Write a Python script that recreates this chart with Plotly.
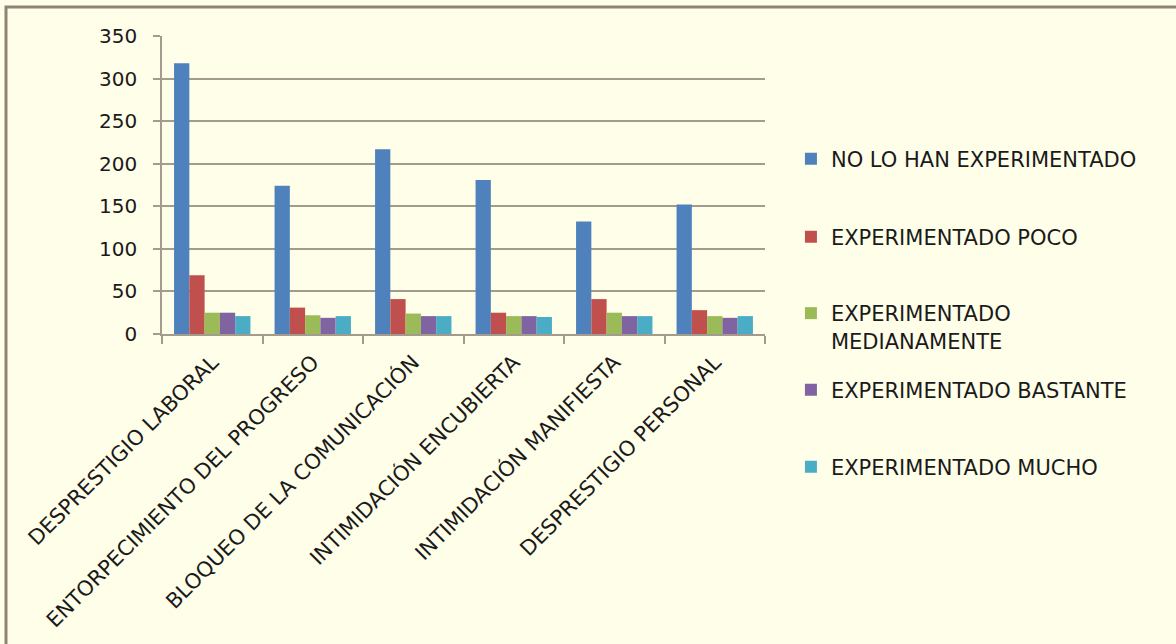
import plotly.graph_objects as go

categories = ["DESPRESTIGIO LABORAL", "ENTORPECIMIENTO DEL PROGRESO", "BLOQUEO DE LA COMUNICACIÓN",
              "INTIMIDACIÓN ENCUBIERTA", "INTIMIDACIÓN MANIFIESTA", "DESPRESTIGIO PERSONAL"]
series_names = ["NO LO HAN EXPERIMENTADO", "EXPERIMENTADO POCO", "EXPERIMENTADO<br>MEDIANAMENTE",
                "EXPERIMENTADO BASTANTE", "EXPERIMENTADO MUCHO"]
no_lo_han = [318, 174, 217, 181, 132, 152]
poco = [69, 31, 41, 25, 41, 28]
medianamente = [25, 22, 24, 21, 25, 21]
bastante = [25, 19, 21, 21, 21, 19]
mucho = [21, 21, 21, 20, 21, 21]
y_ticks = [0, 50, 100, 150, 200, 250, 300, 350]

colors = ["#4F81BD", "#C0504D", "#9BBB59", "#8064A2", "#4BACC6"]
bg = "#FFFEE9"
axis_col = "#A39C8E"
font_family = "'DejaVu Sans', sans-serif"

# legend entry vertical positions (paper fraction of plot area)
legend_y = [0.5872, 0.3255, 0.0235, -0.1879, -0.4463]

fig = go.Figure()
legend_layouts = {}
for i, (name, vals) in enumerate(zip(series_names, [no_lo_han, poco, medianamente, bastante, mucho])):
    lg = "legend" if i == 0 else f"legend{i+1}"
    fig.add_trace(go.Bar(x=categories, y=vals, name=name, marker_color=colors[i],
                         marker_line_width=0, legend=lg))
    legend_layouts[lg] = dict(x=1.043, y=legend_y[i], xanchor="left", yanchor="middle",
                              font=dict(size=21, family=font_family, color="#1a1a1a"),
                              bgcolor="rgba(0,0,0,0)", itemwidth=30, valign="top")

fig.update_layout(
    width=1176, height=644,
    margin=dict(l=162, r=411, t=36, b=310),
    paper_bgcolor=bg, plot_bgcolor=bg,
    barmode="group", bargap=0.24, bargroupgap=0,
    font=dict(family=font_family, color="#1a1a1a"),
    showlegend=True,
    **legend_layouts,
)
fig.update_xaxes(
    type="category", tickangle=-45, tickfont=dict(size=21, family=font_family),
    showline=True, linecolor=axis_col, linewidth=1.5,
    ticks="outside", tickson="boundaries", ticklen=8, tickcolor=axis_col, tickwidth=1.5,
    ticklabelstandoff=6, showgrid=False,
)
fig.update_yaxes(
    range=[0, 350], tickvals=y_ticks, tickfont=dict(size=20, family=font_family),
    showline=True, linecolor=axis_col, linewidth=1.5,
    ticks="outside", ticklen=7, tickcolor=axis_col, tickwidth=1.5, ticklabelstandoff=12,
    showgrid=True, gridcolor=axis_col, gridwidth=1.5, zeroline=False,
)
fig.add_shape(type="rect", xref="paper", yref="paper",
              x0=-0.2587, x1=1.8, y0=-1.2, y1=1.097,
              line=dict(color="#8E8477", width=3), fillcolor="rgba(0,0,0,0)", layer="below")

fig.write_html("out.html")
